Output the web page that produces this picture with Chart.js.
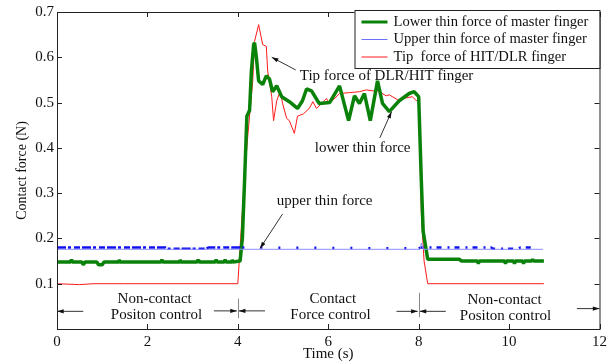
<!DOCTYPE html>
<html>
<head>
<meta charset="utf-8">
<script src="https://cdn.jsdelivr.net/npm/chart.js@4.4.1/dist/chart.umd.min.js"></script>
<style>
  html, body { margin: 0; padding: 0; background: #fff; }
  #wrap { width: 611px; height: 364px; }
</style>
</head>
<body>
<div id="wrap"><canvas id="forceChart" width="611" height="364"></canvas></div>
<script>
// time (s) and contact force (N)
const tipT = [0, 0.5, 0.8, 1.5, 4.0, 4.15, 4.22, 4.33, 4.37, 4.46, 4.55, 4.63, 4.66, 4.75, 4.79, 4.86, 4.94, 4.99, 5.08, 5.14, 5.25, 5.32, 5.45, 5.58, 5.66, 5.74, 5.96, 6.03, 6.25, 6.47, 6.69, 6.84, 6.98, 7.1, 7.28, 7.35, 7.57, 7.65, 7.86, 7.95, 8.0, 8.06, 8.12, 8.2, 10.77];
const tipV = [0.1, 0.098, 0.1, 0.1, 0.1, 0.34, 0.426, 0.548, 0.635, 0.672, 0.628, 0.624, 0.57, 0.513, 0.46, 0.504, 0.526, 0.498, 0.465, 0.46, 0.432, 0.47, 0.475, 0.487, 0.502, 0.487, 0.509, 0.498, 0.52, 0.522, 0.524, 0.528, 0.526, 0.526, 0.515, 0.517, 0.504, 0.509, 0.513, 0.504, 0.504, 0.252, 0.15, 0.1, 0.1];

const lowerT = [0, 0.3, 0.32, 0.34, 0.55, 0.58, 0.62, 0.66, 0.88, 0.92, 1.0, 1.04, 1.35, 1.37, 1.39, 2.3, 2.32, 2.34, 2.7, 2.72, 2.74, 3.1, 3.12, 3.14, 3.5, 3.52, 3.54, 3.7, 3.72, 3.74, 3.85, 3.87, 3.89, 4.05, 4.1, 4.15, 4.2, 4.26, 4.3, 4.35, 4.37, 4.41, 4.46, 4.55, 4.63, 4.7, 4.77, 4.86, 4.97, 5.14, 5.32, 5.43, 5.52, 5.63, 5.8, 6.03, 6.25, 6.45, 6.58, 6.69, 6.8, 6.93, 7.09, 7.2, 7.35, 7.57, 7.79, 7.9, 8.0, 8.06, 8.1, 8.2, 8.9, 8.95, 9.3, 9.32, 9.34, 9.9, 9.92, 9.94, 10.1, 10.12, 10.14, 10.3, 10.32, 10.34, 10.5, 10.52, 10.54, 10.77];
const lowerV = [0.148, 0.148, 0.153, 0.148, 0.148, 0.142, 0.148, 0.148, 0.148, 0.142, 0.142, 0.148, 0.148, 0.153, 0.148, 0.148, 0.153, 0.148, 0.148, 0.153, 0.148, 0.148, 0.153, 0.148, 0.148, 0.153, 0.148, 0.148, 0.153, 0.148, 0.148, 0.153, 0.148, 0.15, 0.2, 0.33, 0.47, 0.483, 0.57, 0.628, 0.632, 0.6, 0.548, 0.54, 0.559, 0.552, 0.524, 0.537, 0.513, 0.502, 0.487, 0.504, 0.53, 0.526, 0.498, 0.5, 0.537, 0.46, 0.515, 0.498, 0.52, 0.46, 0.548, 0.498, 0.48, 0.504, 0.52, 0.524, 0.513, 0.324, 0.215, 0.154, 0.154, 0.15, 0.15, 0.144, 0.15, 0.15, 0.144, 0.15, 0.15, 0.144, 0.15, 0.15, 0.144, 0.15, 0.15, 0.154, 0.15, 0.15];

const upperT = [0, 8.03, 8.06, 8.1, 10.75];
const upperV = [0.176, 0.176, 0.19, 0.176, 0.176];

// dotted samples of the upper thin force
const upperDotT = [0, 2.4, 2.45, 3.3, 3.35, 4.1, 8.0, 8.05, 8.6, 9.6, 9.65, 10.2, 10.25, 10.5];
const upperDotV = [0.18, 0.18, 0.177, 0.177, 0.18, 0.18, 0.178, 0.18, 0.18, 0.18, 0.177, 0.177, 0.18, 0.18];

const xTicks = [0, 2, 4, 6, 8, 10, 12];
const yTicks = [0.1, 0.2, 0.3, 0.4, 0.5, 0.6, 0.7];

const seriesNames = ['Lower thin force of master finger', 'Upper thin force of master finger', 'Tip  force of HIT/DLR finger'];

const notes = [
  { text: 'Tip force of DLR/HIT finger', t: 5.37, v: 0.559, align: 'left' },
  { text: 'lower thin force', t: 6.76, v: 0.40, align: 'center' },
  { text: 'upper thin force', t: 5.92, v: 0.283, align: 'center' },
  { text: 'Non-contact', t: 2.16, v: 0.067, align: 'center' },
  { text: 'Positon control', t: 2.2, v: 0.031, align: 'center' },
  { text: 'Contact', t: 6.1, v: 0.067, align: 'center' },
  { text: 'Force control', t: 6.05, v: 0.031, align: 'center' },
  { text: 'Non-contact', t: 9.9, v: 0.065, align: 'center' },
  { text: 'Positon control', t: 9.92, v: 0.029, align: 'center' }
];

const arrows = [
  { from: [5.28, 0.572], to: [4.75, 0.60] },
  { from: [7.14, 0.422], to: [7.4, 0.48] },
  { from: [4.99, 0.254], to: [4.49, 0.178] },
  { from: [0.58, 0.039], to: [0, 0.039] },
  { from: [3.47, 0.040], to: [3.98, 0.040] },
  { from: [4.6, 0.040], to: [4.02, 0.040] },
  { from: [7.51, 0.039], to: [7.98, 0.039] },
  { from: [8.6, 0.039], to: [8.02, 0.039] },
  { from: [11.5, 0.045], to: [12, 0.045] }
];

const markers = [
  { t: 4, v1: 0.067, v2: 0.024 },
  { t: 8, v1: 0.08, v2: 0.026 }
];

function pts(ts, vs) {
  return ts.map((t, i) => ({ x: t, y: vs[i] }));
}

function arrowHead(ctx, x1, y1, x2, y2) {
  const a = Math.atan2(y2 - y1, x2 - x1);
  ctx.beginPath();
  ctx.moveTo(x2, y2);
  ctx.lineTo(x2 - 7 * Math.cos(a - 0.3), y2 - 7 * Math.sin(a - 0.3));
  ctx.lineTo(x2 - 7 * Math.cos(a + 0.3), y2 - 7 * Math.sin(a + 0.3));
  ctx.closePath();
  ctx.fill();
}

const decor = {
  id: 'decor',
  afterDraw(chart) {
    const ctx = chart.ctx;
    const xs = chart.scales.x, ys = chart.scales.y;
    const area = chart.chartArea;
    ctx.save();

    // frame and inward ticks
    ctx.strokeStyle = '#222';
    ctx.lineWidth = 1;
    ctx.strokeRect(area.left + 0.5, area.top + 0.5, area.right - area.left, area.bottom - area.top);
    ctx.beginPath();
    xTicks.forEach(t => {
      const px = Math.round(xs.getPixelForValue(t)) + 0.5;
      ctx.moveTo(px, area.bottom); ctx.lineTo(px, area.bottom - 5);
      ctx.moveTo(px, area.top); ctx.lineTo(px, area.top + 5);
    });
    yTicks.forEach(v => {
      const py = Math.round(ys.getPixelForValue(v)) + 0.5;
      ctx.moveTo(area.left, py); ctx.lineTo(area.left + 5, py);
      ctx.moveTo(area.right, py); ctx.lineTo(area.right - 5, py);
    });
    ctx.stroke();

    // notes
    ctx.fillStyle = '#111';
    ctx.font = '15px "Liberation Serif", "Times New Roman", serif';
    ctx.textBaseline = 'middle';
    notes.forEach(n => {
      ctx.textAlign = n.align;
      ctx.fillText(n.text, xs.getPixelForValue(n.t), ys.getPixelForValue(n.v));
    });

    ctx.strokeStyle = '#333';
    ctx.fillStyle = '#111';
    arrows.forEach(a => {
      const x1 = xs.getPixelForValue(a.from[0]), y1 = ys.getPixelForValue(a.from[1]);
      const x2 = xs.getPixelForValue(a.to[0]), y2 = ys.getPixelForValue(a.to[1]);
      ctx.beginPath();
      ctx.moveTo(x1, y1); ctx.lineTo(x2, y2);
      ctx.stroke();
      arrowHead(ctx, x1, y1, x2, y2);
    });
    ctx.strokeStyle = '#888';
    markers.forEach(m => {
      const px = Math.round(xs.getPixelForValue(m.t)) + 0.5;
      ctx.beginPath();
      ctx.moveTo(px, ys.getPixelForValue(m.v1));
      ctx.lineTo(px, ys.getPixelForValue(m.v2));
      ctx.stroke();
    });

    // legend box in the top right corner
    const bw = 245, bh = 58;
    const bx = area.right - bw, by = area.top - 2;
    ctx.fillStyle = '#fff';
    ctx.fillRect(bx, by, bw, bh);
    ctx.strokeStyle = '#222';
    ctx.strokeRect(bx + 0.5, by + 0.5, bw, bh);
    const styles = [
      { color: '#0a820a', width: 3 },
      { color: '#6f6fff', width: 1 },
      { color: '#ff1a1a', width: 1 }
    ];
    ctx.textAlign = 'left';
    ctx.font = '14.6px "Liberation Serif", "Times New Roman", serif';
    seriesNames.forEach((name, i) => {
      const y = by + 12 + i * 17.5;
      ctx.strokeStyle = styles[i].color;
      ctx.lineWidth = styles[i].width;
      ctx.beginPath();
      ctx.moveTo(bx + 7, y); ctx.lineTo(bx + 33, y);
      ctx.stroke();
      ctx.fillStyle = '#111';
      ctx.fillText(name, bx + 39, y);
    });
    ctx.restore();
  }
};

document.addEventListener('DOMContentLoaded', function () {
    const canvas = document.getElementById('forceChart');
    if (!canvas) return;

    const serif = { family: '"Liberation Serif", "Times New Roman", serif', size: 15 };

    new Chart(canvas.getContext('2d'), {
        type: 'line',
        data: {
            datasets: [
                {
                    label: seriesNames[1],
                    data: pts(upperT, upperV),
                    borderColor: '#8c8cff',
                    borderWidth: 1,
                    pointRadius: 0
                },
                {
                    label: 'upper dots',
                    data: pts(upperDotT, upperDotV),
                    borderColor: '#1010ee',
                    borderWidth: 2.5,
                    pointRadius: 0,
                    segment: {
                        borderDash: c => {
                            if (c.p0.parsed.x >= 4.1 && c.p1.parsed.x <= 8.0) return [2, 16];
                            if (c.p0.parsed.x >= 8.0) return [5, 6, 2, 5];
                            return [9, 2, 3, 3, 6, 2];
                        }
                    }
                },
                {
                    label: seriesNames[0],
                    data: pts(lowerT, lowerV),
                    borderColor: '#0a820a',
                    borderWidth: 3.5,
                    borderJoinStyle: 'bevel',
                    pointRadius: 0
                },
                {
                    label: seriesNames[2],
                    data: pts(tipT, tipV),
                    borderColor: '#ff1a1a',
                    borderWidth: 1,
                    pointRadius: 0
                }
            ]
        },
        options: {
            responsive: false,
            animation: false,
            layout: { padding: { top: 7, right: 10, left: 0, bottom: 0 } },
            plugins: {
                legend: { display: false },
                tooltip: { enabled: false }
            },
            scales: {
                x: {
                    type: 'linear',
                    min: 0,
                    max: 12,
                    grid: { display: false, drawTicks: false },
                    border: { display: false },
                    ticks: { stepSize: 2, padding: 4, color: '#111', font: serif, maxRotation: 0 },
                    title: { display: true, text: 'Time (s)', color: '#111', font: serif, padding: { top: 0, bottom: 1 } },
                    afterFit: s => { s.height = 35; }
                },
                y: {
                    min: 0,
                    max: 0.7,
                    grid: { display: false, drawTicks: false },
                    border: { display: false },
                    ticks: {
                        stepSize: 0.1,
                        padding: 3,
                        color: '#111',
                        font: serif,
                        callback: v => v < 0.05 ? '' : v.toFixed(1)
                    },
                    title: { display: true, text: 'Contact force (N)', color: '#111', font: { family: serif.family, size: 14 }, padding: { top: 14, bottom: 0 } },
                    afterFit: s => { s.width = 57; }
                }
            }
        },
        plugins: [decor]
    });
});
</script>
</body>
</html>
